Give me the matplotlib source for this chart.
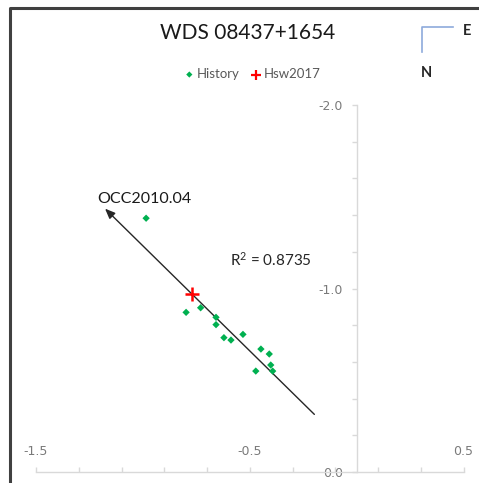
import matplotlib
matplotlib.use("Agg")
import matplotlib.pyplot as plt
from matplotlib.lines import Line2D
from matplotlib.ticker import MultipleLocator, FixedLocator
import numpy as np

plt.rcParams['font.family'] = ['Lato', 'DejaVu Sans']
plt.rcParams['mathtext.fontset'] = 'custom'
plt.rcParams['mathtext.rm'] = 'Lato'
plt.rcParams['mathtext.it'] = 'Lato:italic'

# Relative positions (East, North offsets) of historical measurements
history_x = [-0.798, -0.730, -0.658, -0.658, -0.621, -0.588, -0.532,
             -0.448, -0.409, -0.402, -0.393, -0.472, -0.985]
history_y = [-0.870, -0.895, -0.843, -0.803, -0.732, -0.719, -0.750,
             -0.670, -0.643, -0.583, -0.550, -0.550, -1.383]

# 2017 measurement
hsw_x = [-0.772]
hsw_y = [-0.968]

# Linear motion trend (start, end)
trend_x = [-0.198, -1.177]
trend_y = [-0.314, -1.435]
trend_label = "OCC2010.04"
r_squared = 0.8735

x_ticks_major = [-1.5, -0.5, 0.5]
y_ticks_major = [0.0, -1.0, -2.0]

W, H = 479, 483
fig = plt.figure(figsize=(W / 100, H / 100), dpi=100)
fig.patch.set_facecolor('white')

def fx(px):
    return px / W

def fy(py):
    return 1 - py / H

ax = fig.add_axes([fx(36), fy(472), (463.6 - 36) / W, (472 - 105) / H])
ax.set_xlim(-1.5, 0.5)
ax.set_ylim(0.0, -2.0)
ax.patch.set_alpha(0)

axis_grey = '#d9d9d9'
label_grey = '#7a7a7a'
tick_font = 'DejaVu Sans'

for s in ['top', 'right']:
    ax.spines[s].set_visible(False)
ax.spines['left'].set_position(('data', 0.0))
ax.spines['left'].set_color(axis_grey)
ax.spines['bottom'].set_color(axis_grey)
ax.spines['left'].set_linewidth(1.0)
ax.spines['bottom'].set_linewidth(1.0)

ax.xaxis.set_major_locator(FixedLocator(x_ticks_major))
ax.xaxis.set_minor_locator(FixedLocator(np.round(np.arange(-1.5, 0.51, 0.2), 2)))
ax.set_xticklabels([f"{v:.1f}" for v in x_ticks_major], family=tick_font)
ax.yaxis.set_major_locator(FixedLocator(y_ticks_major))
ax.yaxis.set_minor_locator(MultipleLocator(0.2))
ax.set_yticklabels([f"{v:.1f}" for v in y_ticks_major], family=tick_font)

ax.tick_params(axis='x', which='both', direction='in', length=3.5,
               color=axis_grey, width=1.0)
ax.tick_params(axis='x', which='major', labelsize=9, labelcolor=label_grey,
               pad=-19.6)
ax.tick_params(axis='y', which='both', direction='out', length=3.5,
               color=axis_grey, width=1.0)
ax.tick_params(axis='y', which='major', labelsize=9, labelcolor=label_grey,
               pad=6.4)

# Data
ax.scatter(history_x, history_y, marker='D', s=14, color='#00b050',
           edgecolors='none', zorder=3, label='History')
ax.scatter(hsw_x, hsw_y, marker='+', s=110, color='#ff0000',
           linewidths=1.8, zorder=4, label='Hsw2017')

# Trend line with arrow
ax.annotate('', xy=(trend_x[1], trend_y[1]), xytext=(trend_x[0], trend_y[0]),
            arrowprops=dict(arrowstyle='-|>,head_length=0.6,head_width=0.25',
                            color='#262626', lw=1.0, shrinkA=0, shrinkB=0),
            zorder=2)
ax.text(-1.214, -1.488, trend_label, fontsize=11.5, color='#1a1a1a',
        ha='left', va='center')
ax.text(-0.592, -1.155, f"R$^2$ = {r_squared:.4f}", fontsize=11,
        color='#262626', ha='left', va='center')

# Title and legend
fig.text(fx(248), fy(33), "WDS 08437+1654", fontsize=15, color='#1a1a1a',
         ha='center', va='center')
leg = fig.legend(loc='center', bbox_to_anchor=(fx(251), fy(74)), ncol=2,
                 frameon=False, fontsize=9.5, handletextpad=0.0,
                 columnspacing=0.6, handlelength=1.2)
for t in leg.get_texts():
    t.set_color('#595959')
leg.legend_handles[0].set_sizes([10])
leg.legend_handles[1].set_sizes([50])
leg.legend_handles[1].set_linewidths([1.6])

# Orientation marker
fig.add_artist(Line2D([fx(421.7), fx(421.7), fx(453)],
                      [fy(51.7), fy(26.7), fy(26.7)],
                      color='#8eaadb', lw=1.2))
fig.text(fx(467), fy(31), "E", fontsize=10.5, fontweight='bold',
         color='#262626', ha='center', va='center')
fig.text(fx(426), fy(73), "N", fontsize=10.5, fontweight='bold',
         color='#262626', ha='center', va='center')

# Chart frame (top and left edges)
fig.add_artist(Line2D([fx(9.5), fx(9.5), fx(W + 5)],
                      [fy(H + 5), fy(8), fy(8)],
                      color='#404040', lw=2.2, solid_capstyle='projecting'))

fig.savefig('out.png', dpi=100, facecolor='white')
